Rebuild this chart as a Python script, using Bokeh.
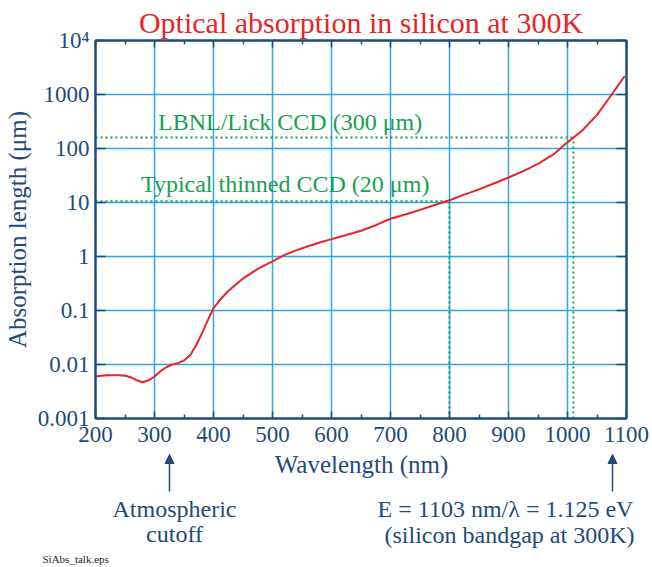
from bokeh.plotting import figure
from bokeh.layouts import column
from bokeh.models import (FixedTicker, LinearAxis, LogAxis, Range1d, Label, Arrow,
                          NormalHead, ColumnDataSource, Title)
from bokeh.embed import file_html
from bokeh.resources import INLINE

# ---- data ----
wavelength_nm = [200, 210, 220, 230, 240, 250, 260, 270, 280, 290, 300, 310, 320, 330,
                 340, 350, 360, 370, 380, 390, 400, 410, 425, 450, 475, 500, 520, 540,
                 560, 580, 600, 625, 650, 675, 700, 725, 750, 775, 800, 825, 850, 875, 900,
                 925, 950, 975, 1000, 1025, 1050, 1075, 1097]
absorption_um = [0.0060, 0.0062, 0.0063, 0.0063, 0.0063, 0.0062, 0.0058, 0.0051, 0.0047,
                 0.0051, 0.0060, 0.0075, 0.0089, 0.0100, 0.0106, 0.0119, 0.0147, 0.022,
                 0.037, 0.065, 0.11, 0.153, 0.23, 0.39, 0.59, 0.81, 1.06, 1.30,
                 1.55, 1.82, 2.1, 2.5, 3.0, 3.8, 5.0, 6.0, 7.3, 9.0, 11.0, 14.0, 17.5, 22.5, 29,
                 38, 52, 76, 130, 215, 420, 1000, 2200]

x_ticks = [200, 300, 400, 500, 600, 700, 800, 900, 1000, 1100]
x_minor = [250, 350, 450, 550, 650, 750, 850, 950, 1050]
y_ticks = [0.001, 0.01, 0.1, 1, 10, 100, 1000, 10000]
y_tick_labels = ["0.001", "0.01", "0.1", "1", "10", "100", "1000", "10\u2074"]

lick_thickness_level = 160      # absorption length where the LBNL/Lick marker sits
lick_cut_nm = 1010
thinned_level = 10.5
thinned_cut_nm = 800

NAVY = "#1d4b7a"
GRID = "#2fa6de"
RED = "#e8232b"
GREEN = "#17a050"
FONT = "Liberation Serif"

TOP_H = 450
p = figure(width=652, height=TOP_H, output_backend="svg", toolbar_location=None,
           x_range=Range1d(200, 1100), y_range=Range1d(0.001, 10000), y_axis_type="log",
           min_border_left=94, min_border_right=26, min_border_top=40, min_border_bottom=TOP_H - 418,
           x_axis_location=None, y_axis_location=None)
p.background_fill_color = "white"
p.border_fill_color = "white"
p.outline_line_color = NAVY
p.outline_line_width = 2

p.title = Title(text="Optical absorption in silicon at 300K", align="center",
                text_color=RED, text_font=FONT, text_font_size="30px",
                text_font_style="normal", standoff=3, offset=-5)

def style_axis(ax, ticks, labels=None, size="23px"):
    ax.axis_line_color = NAVY
    ax.axis_line_width = 2
    ax.major_tick_line_color = NAVY
    ax.minor_tick_line_color = NAVY
    ax.major_tick_line_width = 1.5
    ax.minor_tick_line_width = 1.5
    ax.major_tick_out = 0
    ax.minor_tick_out = 0
    ax.major_label_text_color = NAVY
    ax.major_label_text_font = FONT
    ax.major_label_text_font_size = size
    ax.axis_label_text_color = NAVY
    ax.axis_label_text_font = FONT
    ax.axis_label_text_font_size = "25px"
    ax.axis_label_text_font_style = "normal"
    if labels is not None:
        ax.major_label_overrides = {t: s for t, s in zip(ticks, labels)}

xb = LinearAxis(ticker=FixedTicker(ticks=x_ticks, minor_ticks=x_minor))
style_axis(xb, x_ticks)
xb.major_tick_in = 7
xb.minor_tick_in = 4
xb.major_label_standoff = 8
p.add_layout(xb, "below")

xt = LinearAxis(ticker=FixedTicker(ticks=x_ticks, minor_ticks=x_minor))
style_axis(xt, x_ticks, [""] * len(x_ticks), size="1px")
xt.major_tick_in = 7
xt.minor_tick_in = 4
xt.major_label_standoff = 0
p.add_layout(xt, "above")

yl = LogAxis(ticker=FixedTicker(ticks=y_ticks, minor_ticks=[]), axis_label="Absorption length (\u03bcm)")
style_axis(yl, y_ticks, y_tick_labels)
yl.major_tick_in = 10
yl.major_label_standoff = 6
yl.axis_label_standoff = 4
p.add_layout(yl, "left")

yr = LogAxis(ticker=FixedTicker(ticks=y_ticks, minor_ticks=[]))
style_axis(yr, y_ticks, [""] * len(y_ticks), size="1px")
yr.major_tick_in = 10
yr.major_label_standoff = 0
p.add_layout(yr, "right")

p.xgrid.ticker = FixedTicker(ticks=x_ticks)
p.ygrid.ticker = FixedTicker(ticks=y_ticks)
for g in (p.xgrid, p.ygrid):
    g.grid_line_color = GRID
    g.grid_line_width = 1.5
    g.grid_line_alpha = 1.0

# dotted marker lines
dots = dict(line_color=GREEN, line_width=2, line_dash="2 3")
p.line([200, lick_cut_nm], [lick_thickness_level, lick_thickness_level], **dots)
p.line([lick_cut_nm, lick_cut_nm], [0.001, lick_thickness_level], **dots)
p.line([200, thinned_cut_nm], [thinned_level, thinned_level], **dots)
p.line([thinned_cut_nm, thinned_cut_nm], [0.001, thinned_level], **dots)

src = ColumnDataSource(dict(x=wavelength_nm, y=absorption_um))
p.line("x", "y", source=src, line_color=RED, line_width=2)

# in-frame annotations (pixel helpers: frame x 94..626, y 40..418)
def xd(px):
    return 200 + (px - 94) * 900.0 / 532.0

def yd(py):
    return 10 ** (4 - (py - 40) * 7.0 / 378.0)

for text, px, py in [("LBNL/Lick CCD (300 \u03bcm)", 289, 121),
                     ("Typical thinned CCD (20 \u03bcm)", 284, 183)]:
    p.add_layout(Label(x=xd(px), y=yd(py), text=text, text_color=GREEN, text_font=FONT,
                       text_font_size="24px", text_align="center", text_baseline="middle"))

# ---- lower strip: axis title and notes, in canvas pixel units ----
q = figure(width=652, height=567 - TOP_H, output_backend="svg", toolbar_location=None,
           x_range=Range1d(0, 652), y_range=Range1d(567, TOP_H),
           min_border=0, x_axis_location=None, y_axis_location=None)
q.outline_line_color = None
q.xgrid.visible = False
q.ygrid.visible = False
q.background_fill_color = "white"
q.border_fill_color = "white"

for fig in (p, q):
    if "frame_align" in fig.properties():
        fig.frame_align = False

def qlab(text, px, py, size="24px", color=NAVY, align="center", style="normal"):
    q.add_layout(Label(x=px, y=py, text=text, text_color=color, text_font=FONT,
                       text_font_size=size, text_align=align, text_baseline="middle",
                       text_font_style=style))

qlab("Wavelength (nm)", 361, 464, size="25px")
qlab("Atmospheric", 174, 508)
qlab("cutoff", 174, 533)
qlab("E = 1103 nm/\u03bb = 1.125 eV", 505, 508)
qlab("(silicon bandgap at 300K)", 509, 534)
qlab("SiAbs_talk.eps", 42, 558, size="11px", color="#222222", align="left")

for ax_px in (169, 612):
    q.add_layout(Arrow(x_start=ax_px, y_start=491, x_end=ax_px, y_end=454,
                       line_color=NAVY, line_width=1.5,
                       end=NormalHead(size=9, fill_color=NAVY, line_color=NAVY)))

layout = column(p, q, spacing=0)
open("out.html", "w").write(file_html(layout, INLINE))
